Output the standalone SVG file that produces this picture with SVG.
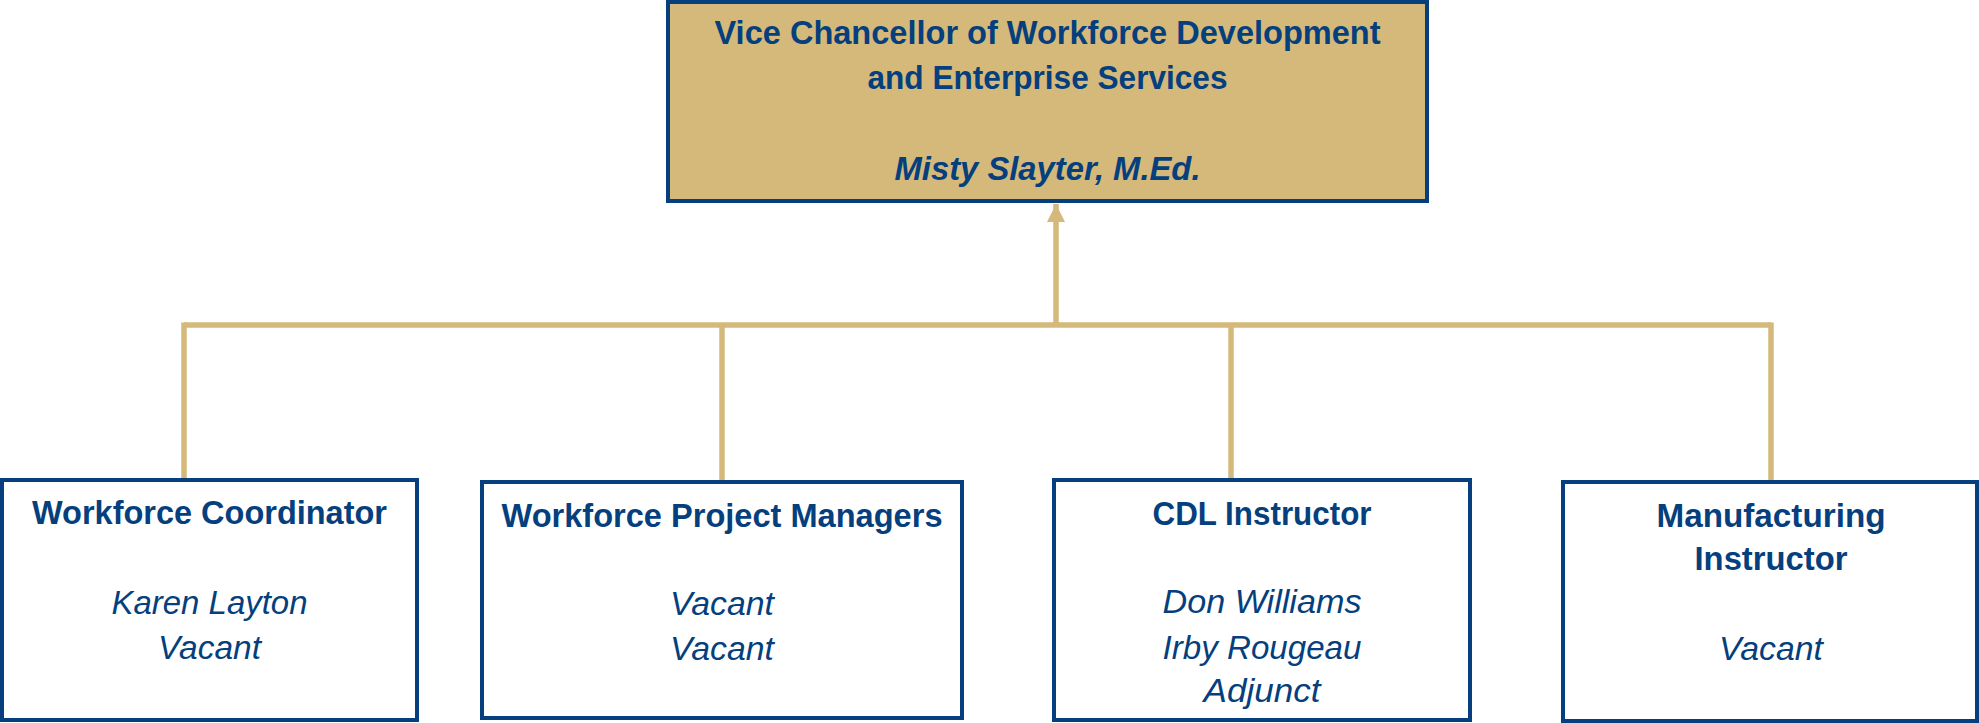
<svg xmlns="http://www.w3.org/2000/svg" width="1979" height="723" viewBox="0 0 1979 723">
  <style>
    .box { fill: #ffffff; stroke: #053F7D; stroke-width: 4; }
    .top { fill: #D4B97B; stroke: #053F7D; stroke-width: 4; }
    .t { font-family: "Liberation Sans", Arial, sans-serif; font-size: 33px; fill: #053F7D; text-anchor: middle; font-weight: bold; }
    .n { font-family: "Liberation Sans", Arial, sans-serif; font-size: 33px; fill: #053F7D; text-anchor: middle; font-style: italic; }
    .tn { font-weight: bold; font-style: italic; }
    .c { fill: none; stroke: #D4B97B; stroke-width: 5.5; }
  </style>
  <defs>
    <marker id="arr" markerUnits="userSpaceOnUse" viewBox="0 0 18 18" refX="18" refY="9" markerWidth="18" markerHeight="18" orient="auto">
      <path d="M0,0 L18,9 L0,18 Z" fill="#D4B97B"/>
    </marker>
  </defs>

  <g id="connectors">
    <line class="c" x1="184" y1="325" x2="1771" y2="325"/>
    <line class="c" x1="184" y1="322.5" x2="184" y2="480"/>
    <line class="c" x1="722" y1="325" x2="722" y2="482"/>
    <line class="c" x1="1231" y1="325" x2="1231" y2="480"/>
    <line class="c" x1="1771" y1="322.5" x2="1771" y2="482"/>
    <line class="c" x1="1056" y1="327" x2="1056" y2="204" marker-end="url(#arr)"/>
  </g>

  <g id="vice-chancellor">
    <rect class="top" x="668" y="2" width="759" height="199"/>
    <text class="t" x="1047.5" y="44" textLength="666" lengthAdjust="spacingAndGlyphs">Vice Chancellor of Workforce Development</text>
    <text class="t" x="1047.5" y="89" textLength="360" lengthAdjust="spacingAndGlyphs">and Enterprise Services</text>
    <text class="t tn" x="1047.5" y="180" textLength="306" lengthAdjust="spacingAndGlyphs">Misty Slayter, M.Ed.</text>
  </g>

  <g id="workforce-coordinator">
    <rect class="box" x="2" y="480" width="415" height="240"/>
    <text class="t" x="209.5" y="524" textLength="355" lengthAdjust="spacingAndGlyphs">Workforce Coordinator</text>
    <text class="n" x="209.5" y="614" textLength="196" lengthAdjust="spacingAndGlyphs">Karen Layton</text>
    <text class="n" x="209.5" y="659" textLength="103" lengthAdjust="spacingAndGlyphs">Vacant</text>
  </g>

  <g id="workforce-project-managers">
    <rect class="box" x="482" y="482" width="480" height="236"/>
    <text class="t" x="722" y="527" textLength="441" lengthAdjust="spacingAndGlyphs">Workforce Project Managers</text>
    <text class="n" x="722" y="615" textLength="104" lengthAdjust="spacingAndGlyphs">Vacant</text>
    <text class="n" x="722" y="660" textLength="104" lengthAdjust="spacingAndGlyphs">Vacant</text>
  </g>

  <g id="cdl-instructor">
    <rect class="box" x="1054" y="480" width="416" height="240"/>
    <text class="t" x="1262" y="525" textLength="219" lengthAdjust="spacingAndGlyphs">CDL Instructor</text>
    <text class="n" x="1262" y="613" textLength="199" lengthAdjust="spacingAndGlyphs">Don Williams</text>
    <text class="n" x="1262" y="659" textLength="199" lengthAdjust="spacingAndGlyphs">Irby Rougeau</text>
    <text class="n" x="1262" y="702" textLength="117" lengthAdjust="spacingAndGlyphs">Adjunct</text>
  </g>

  <g id="manufacturing-instructor">
    <rect class="box" x="1563" y="482" width="414" height="239"/>
    <text class="t" x="1771" y="527" textLength="229" lengthAdjust="spacingAndGlyphs">Manufacturing</text>
    <text class="t" x="1771" y="570" textLength="153" lengthAdjust="spacingAndGlyphs">Instructor</text>
    <text class="n" x="1771" y="660" textLength="104" lengthAdjust="spacingAndGlyphs">Vacant</text>
  </g>
</svg>
